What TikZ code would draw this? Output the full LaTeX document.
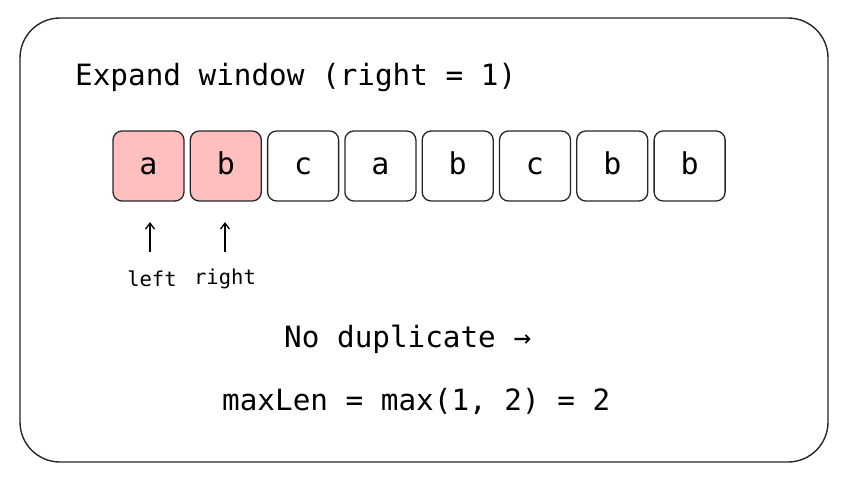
\documentclass[tikz,border=0pt]{standalone}
\usepackage{fontspec}
\usetikzlibrary{arrows.meta}
\setmonofont{DejaVu Sans Mono}
\begin{document}
\begin{tikzpicture}[x=1pt,y=-1pt,
  cell/.style={draw=black!85,line width=1.3pt,rounded corners=9pt,minimum width=71pt,minimum height=70pt,font=\ttfamily\fontsize{30}{34}\selectfont,inner sep=0pt,text height=16pt,text depth=0pt},
  hit/.style={cell,fill=red!25},
  big/.style={font=\ttfamily\fontsize{29.3}{33}\selectfont,anchor=west,inner sep=0pt},
  small/.style={font=\ttfamily\fontsize{20.5}{24}\selectfont,inner sep=0pt},
  ptr/.style={-{Straight Barb[length=6pt,width=9pt]},line width=1.3pt}]
\useasboundingbox (0,0) rectangle (844,480);
\draw[line width=1.4pt,rounded corners=40pt,black!85] (20,18) rectangle (828,462);
\node[big] (title) at (75,78) {Expand window (right = 1)};
\foreach \i/\ch/\s in {0/a/hit,1/b/hit,2/c/cell,3/a/cell,4/b/cell,5/c/cell,6/b/cell,7/b/cell}
  \node[\s] (c\i) at (148.5+77.3*\i,166) {\ch};
\coordinate (p0) at (150,252);
\coordinate (p1) at (225,252);
\coordinate (q0) at (150,222);
\coordinate (q1) at (225,222);
\draw[ptr] (p0) -- (q0);
\draw[ptr] (p1) -- (q1);
\node[small] (l) at (152,279) {left};
\node[small] (r) at (225,279) {right};
\node[big] (nd) at (284,339) {No duplicate →};
\node[big] (ml) at (222,401) {maxLen = max(1, 2) = 2};
\end{tikzpicture}
\end{document}
